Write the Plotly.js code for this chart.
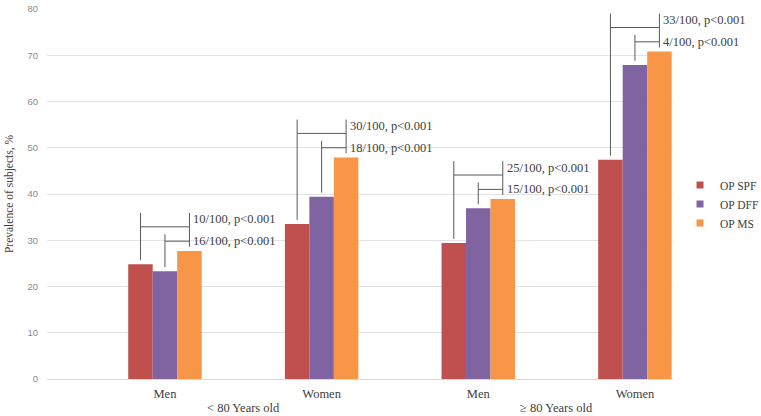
<!DOCTYPE html>
<html>
<head>
<meta charset="utf-8">
<script src="https://cdn.plot.ly/plotly-3.0.1.min.js"></script>
<style>html,body{margin:0;padding:0;background:#fff;}#chart{width:761px;height:416px;}</style>
</head>
<body>
<div id="chart"></div>
<script>
// ---- data ----
const categories = ["Men", "Women", "Men", "Women"];
const ageGroups = ["< 80 Years old", "≥ 80 Years old"];
const seriesNames = ["OP SPF", "OP DFF", "OP MS"];
const opSPF = [24.8, 33.5, 29.4, 47.4];
const opDFF = [23.3, 39.4, 36.9, 67.9];
const opMS  = [27.7, 47.9, 38.9, 70.8];
const outerLabels = ["10/100, p<0.001", "30/100, p<0.001", "25/100, p<0.001", "33/100, p<0.001"];
const innerLabels = ["16/100, p<0.001", "18/100, p<0.001", "15/100, p<0.001", "4/100, p<0.001"];

// ---- styling ----
const colors = ["#C0504D", "#8064A2", "#F79646"];
const serif = "Liberation Serif";
const textCol = "#404040";
const lineCol = "#595959";
const bargap = 0.531;

const xs = categories.map((c, i) => i);
const series = [opSPF, opDFF, opMS];

const traces = series.map((vals, k) => ({
  type: "bar", x: xs, y: vals, name: seriesNames[k],
  marker: {color: colors[k], line: {width: 0}},
  showlegend: false, hoverinfo: "skip"
}));
// legend proxies (small squares)
seriesNames.forEach((n, k) => traces.push({
  type: "scatter", mode: "markers", x: [null], y: [null], name: n,
  marker: {symbol: "square", size: 7, color: colors[k]}, showlegend: true
}));

// bracket geometry derived from data
const barW = (1 - bargap) / 3;
const shapes = [];
const annotations = [];
const gap = 0.9;
const line = (x0, y0, x1, y1) => shapes.push({type: "line", xref: "x", yref: "y", x0, y0, x1, y1, line: {color: lineCol, width: 1}});
xs.forEach((x, i) => {
  const xr = x - barW, xp = x, xo = x + barW;
  const top = Math.max(opSPF[i], opDFF[i], opMS[i]);
  const innerY = top + 2.1, innerTop = innerY + 1.5;
  const outerY = top + 5.2, outerTop = outerY + 3.0;
  line(xr, opSPF[i] + gap, xr, outerTop);
  line(xr, outerY, xo, outerY);
  line(xo, opMS[i] + gap, xo, outerTop);
  line(xp, opDFF[i] + gap, xp, innerTop);
  line(xp, innerY, xo, innerY);
  const font = {family: serif, size: 12.5, color: textCol};
  annotations.push({xref: "x", yref: "y", x: xo, y: outerTop - 1.4, text: outerLabels[i], showarrow: false, xanchor: "left", yanchor: "middle", xshift: 2, font});
  annotations.push({xref: "x", yref: "y", x: xo, y: innerY, text: innerLabels[i], showarrow: false, xanchor: "left", yanchor: "middle", xshift: 2, font});
});
ageGroups.forEach((g, j) => annotations.push({
  xref: "x", yref: "paper", x: 2 * j + 0.5, y: -0.078, text: g, showarrow: false,
  xanchor: "center", yanchor: "middle", font: {family: serif, size: 12.5, color: textCol}
}));

const layout = {
  width: 761, height: 416,
  margin: {l: 47, r: 88, t: 9, b: 37},
  paper_bgcolor: "#fff", plot_bgcolor: "#fff",
  barmode: "group", bargap: bargap, bargroupgap: 0,
  showlegend: true,
  legend: {xref: "container", x: 0.8936, xanchor: "left", yref: "container", y: (416 - 204) / 416, yanchor: "middle",
           font: {family: serif, size: 11.5, color: textCol}, itemwidth: 30, bgcolor: "rgba(0,0,0,0)"},
  xaxis: {range: [-0.753, 3.243], tickvals: xs, ticktext: categories, showgrid: false,
          zeroline: false, showline: true, linecolor: "#d9d9d9", linewidth: 1, ticks: "",
          ticklabelstandoff: 3,
          tickfont: {family: serif, size: 12.5, color: textCol}, fixedrange: true, automargin: false},
  yaxis: {range: [0, 80], dtick: 10, showgrid: true, gridcolor: "#e3e3e3", gridwidth: 1,
          zeroline: false, showline: false, ticks: "", ticklabelstandoff: 8,
          tickfont: {family: "Liberation Sans", size: 9.5, color: "#8a8a8a"},
          title: {text: "Prevalence of subjects, %", font: {family: serif, size: 11.5, color: textCol}, standoff: 11},
          automargin: false, fixedrange: true},
  shapes, annotations
};
Plotly.newPlot("chart", traces, layout, {displayModeBar: false, staticPlot: true});
</script>
</body>
</html>
